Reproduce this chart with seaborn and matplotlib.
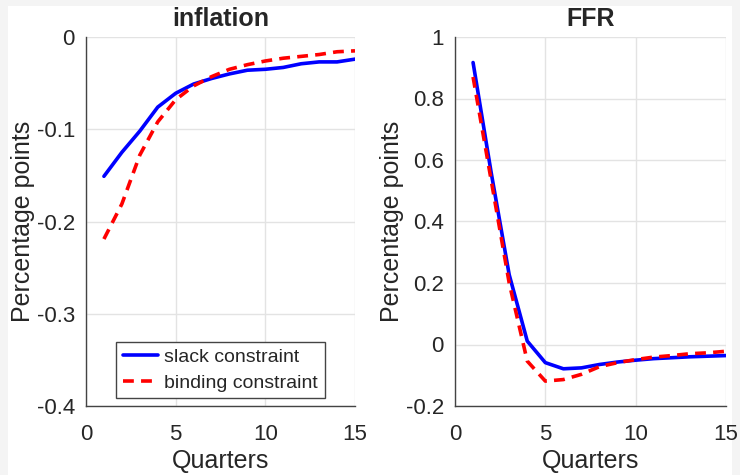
import numpy as np
import pandas as pd
import matplotlib
matplotlib.use('Agg')
import matplotlib.pyplot as plt
import seaborn as sns
from matplotlib.patches import Rectangle
from matplotlib.ticker import FuncFormatter

# data
quarters = list(range(1, 16))
infl_slack = [-0.151, -0.125, -0.102, -0.076, -0.061, -0.051, -0.045, -0.040,
              -0.036, -0.035, -0.033, -0.029, -0.027, -0.027, -0.024]
infl_binding = [-0.219, -0.181, -0.128, -0.092, -0.068, -0.053, -0.043, -0.035,
                -0.030, -0.026, -0.023, -0.021, -0.019, -0.016, -0.015]
ffr_slack = [0.917, 0.56, 0.227, 0.011, -0.059, -0.079, -0.076, -0.065,
             -0.057, -0.051, -0.046, -0.043, -0.040, -0.038, -0.036]
ffr_binding = [0.87, 0.535, 0.20, -0.054, -0.119, -0.114, -0.097, -0.072,
               -0.059, -0.049, -0.041, -0.036, -0.030, -0.027, -0.022]
labels = ['slack constraint', 'binding constraint']

sns.set_style('white')
plt.rcParams['font.family'] = ['Liberation Sans', 'DejaVu Sans']
plt.rcParams['axes.unicode_minus'] = False

fig = plt.figure(figsize=(7.4, 4.75), dpi=100, facecolor='#f4f4f4')
# white inner figure area
fig.patches.append(Rectangle((8 / 740, 0), 724 / 740, 469 / 475,
                             transform=fig.transFigure, facecolor='white',
                             edgecolor='none', zorder=-1))

ax1 = fig.add_axes([86 / 740, 1 - 406 / 475, 269 / 740, 369 / 475])
ax2 = fig.add_axes([455 / 740, 1 - 406 / 475, 271 / 740, 369 / 475])

def make_df(slack, binding):
    return pd.DataFrame({
        'Quarters': quarters * 2,
        'value': slack + binding,
        'case': [labels[0]] * len(quarters) + [labels[1]] * len(quarters),
    })

def fmt(v, p):
    v = round(v, 2) + 0.0
    return '0' if v == 0 else '%g' % v

panels = [
    (ax1, make_df(infl_slack, infl_binding), 'inflation', (-0.4, 0), np.arange(-0.4, 0.01, 0.1)),
    (ax2, make_df(ffr_slack, ffr_binding), 'FFR', (-0.2, 1), np.arange(-0.2, 1.01, 0.2)),
]

for ax, df, title, ylim, yticks in panels:
    ax.set_facecolor('white')
    sns.lineplot(data=df, x='Quarters', y='value', hue='case', style='case',
                 palette={labels[0]: '#0000ff', labels[1]: '#ff0000'},
                 dashes={labels[0]: '', labels[1]: (3, 2)},
                 linewidth=2.6, ax=ax, legend=False)
    ax.set_xlim(0, 15)
    ax.set_ylim(*ylim)
    ax.set_xticks([0, 5, 10, 15])
    ax.set_yticks(yticks)
    ax.yaxis.set_major_formatter(FuncFormatter(fmt))
    ax.grid(True, color='#e3e3e3', linewidth=1)
    ax.set_axisbelow(True)
    for s in ['top', 'right']:
        ax.spines[s].set_visible(False)
    for s in ['left', 'bottom']:
        ax.spines[s].set_color('#444444')
        ax.spines[s].set_linewidth(1)
    ax.tick_params(direction='in', length=4, width=1, color='#444444',
                   labelsize=16, labelcolor='#262626')
    ax.tick_params(axis='x', pad=13)
    ax.tick_params(axis='y', pad=8)
    ax.set_title(title, fontsize=18, fontweight='bold', pad=8)
    ax.set_xlabel('Quarters', fontsize=18, color='#262626', labelpad=3)
    ax.set_ylabel('Percentage points', fontsize=18, color='#262626', labelpad=1)

h1, = ax1.plot([], [], color='#0000ff', linewidth=2.6)
h2, = ax1.plot([], [], color='#ff0000', linewidth=2.6, linestyle=(0, (3, 2)))
leg = ax1.legend([h1, h2], labels, loc='lower center', bbox_to_anchor=(0.5, 0.01),
                 fontsize=14, frameon=True, fancybox=False, framealpha=1,
                 edgecolor='#444444', handlelength=1.8, handletextpad=0.3,
                 borderpad=0.35, labelspacing=0.4, borderaxespad=0.2)
leg.get_frame().set_linewidth(1)

fig.savefig('out.png', dpi=100, facecolor=fig.get_facecolor())
